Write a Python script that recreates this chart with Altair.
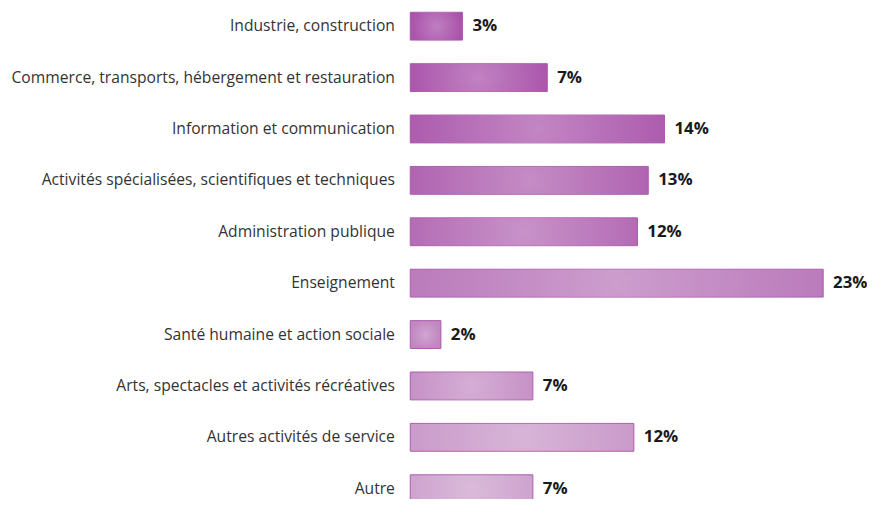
import altair as alt
import pandas as pd

categories = [
    "Industrie, construction",
    "Commerce, transports, hébergement et restauration",
    "Information et communication",
    "Activités spécialisées, scientifiques et techniques",
    "Administration publique",
    "Enseignement",
    "Santé humaine et action sociale",
    "Arts, spectacles et activités récréatives",
    "Autres activités de service",
    "Autre",
]
values = [2.9, 7.6, 14.1, 13.2, 12.6, 22.9, 1.7, 6.8, 12.4, 6.8]
labels = ["3%", "7%", "14%", "13%", "12%", "23%", "2%", "7%", "12%", "7%"]

bar_colors = ["#a952aa", "#ab56ac", "#ad5cae", "#b064b1", "#b46cb5",
              "#bb7bbc", "#c086c1", "#c692c6", "#ca9bca", "#cea3ce"]

df = pd.DataFrame({"cat": categories, "val": values, "lab": labels})

y = alt.Y(
    "cat:N",
    sort=categories,
    title=None,
    scale=alt.Scale(paddingInner=0.458, paddingOuter=0.039, range=[0, 499]),
    axis=alt.Axis(
        ticks=False, domain=False, grid=False,
        labelFontSize=15.8, labelFont="Open Sans", labelColor="#333333",
        labelPadding=16, labelLimit=420,
    ),
)
x = alt.X("val:Q", scale=alt.Scale(domain=[0, 25], nice=False), axis=None)

base = alt.Chart(df).encode(y=y, x=x)

bars = base.mark_bar(stroke="#ad5aae", strokeWidth=1).encode(
    color=alt.Color("cat:N", scale=alt.Scale(domain=categories, range=bar_colors), legend=None)
)

glow = base.mark_bar(
    fill={
        "gradient": "radial",
        "x1": 0.5, "y1": 0.5, "r1": 0,
        "x2": 0.5, "y2": 0.5, "r2": 0.5,
        "stops": [
            {"offset": 0, "color": "rgba(255,255,255,0.26)"},
            {"offset": 1, "color": "rgba(255,255,255,0)"},
        ],
    },
    strokeWidth=0,
)

text = base.mark_text(
    align="left", baseline="middle", dx=10, fontSize=17,
    fontWeight="bold", font="Open Sans", color="#1a1a1a",
).encode(text="lab:N")

chart = (
    alt.layer(bars, glow, text)
    .properties(
        width=455, height=491,
        padding={"left": 406, "top": 0, "right": 6, "bottom": 0},
        autosize=alt.AutoSizeParams(type="none"),
    )
    .configure_view(stroke=None)
)

chart.save("out.html", embed_options={"renderer": "svg", "actions": False})
